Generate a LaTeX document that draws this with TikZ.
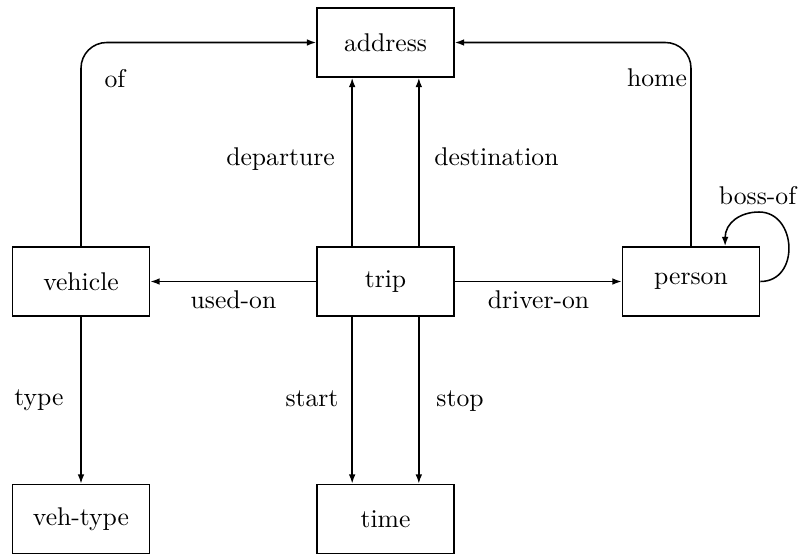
\documentclass[tikz,border=0pt]{standalone}
\usetikzlibrary{arrows.meta}
\begin{document}
\begin{tikzpicture}[x=0.39pt,y=-0.39pt,
  entity/.style={draw,line width=0.7pt,minimum width=53.4pt,minimum height=26.9pt,inner sep=0pt},
  arr/.style={line width=0.6pt,-{Latex[length=3.6pt,width=2.6pt]}},
  lbl/.style={anchor=base,inner sep=0pt}]
\useasboundingbox (0,0) rectangle (803,556);

% entities
\node[entity] (address) at (385.5,42.5) {address};
\node[entity] (vehicle) at (81,281.5) {vehicle};
\node[entity] (trip)    at (385.5,281.5) {trip};
\node[entity] (person)  at (691,281.5) {person};
\node[entity] (vehtype) at (81,519) {veh-type};
\node[entity] (time)    at (385.5,519) {time};

% relationships into address
\draw[arr,rounded corners=10pt] (vehicle.north) |- (address.west);
\draw[arr,rounded corners=10pt] (person.north) |- (address.east);
\draw[arr] ([xshift=-13pt]trip.north) -- ([xshift=-13pt]address.south);
\draw[arr] ([xshift=13pt]trip.north) -- ([xshift=13pt]address.south);

% relationships out of trip
\draw[arr] (trip.west) -- (vehicle.east);
\draw[arr] (trip.east) -- (person.west);
\draw[arr] ([xshift=-13pt]trip.south) -- ([xshift=-13pt]time.north);
\draw[arr] ([xshift=13pt]trip.south) -- ([xshift=13pt]time.north);

% vehicle type
\draw[arr] (vehicle.south) -- (vehtype.north);

% boss-of loop on person
\coordinate (looptop) at (759,212);
\draw[arr] (person.east) .. controls +(40,0) and (797,212) .. (looptop)
  .. controls (740,212) and ([xshift=13.3pt,yshift=9pt]person.north) .. ([xshift=13.3pt]person.north);

% labels
\node[lbl] at (115,87) {of};
\node[lbl] at (657,86) {home};
\node[lbl] at (280.5,165) {departure};
\node[lbl] at (496.5,165) {destination};
\node[lbl] at (233.5,308) {used-on};
\node[lbl] at (538.5,308) {driver-on};
\node[lbl] at (312,406) {start};
\node[lbl] at (460,406) {stop};
\node[lbl] at (39,405) {type};
\node[lbl] at (757.5,204) {boss-of};
\end{tikzpicture}
\end{document}
